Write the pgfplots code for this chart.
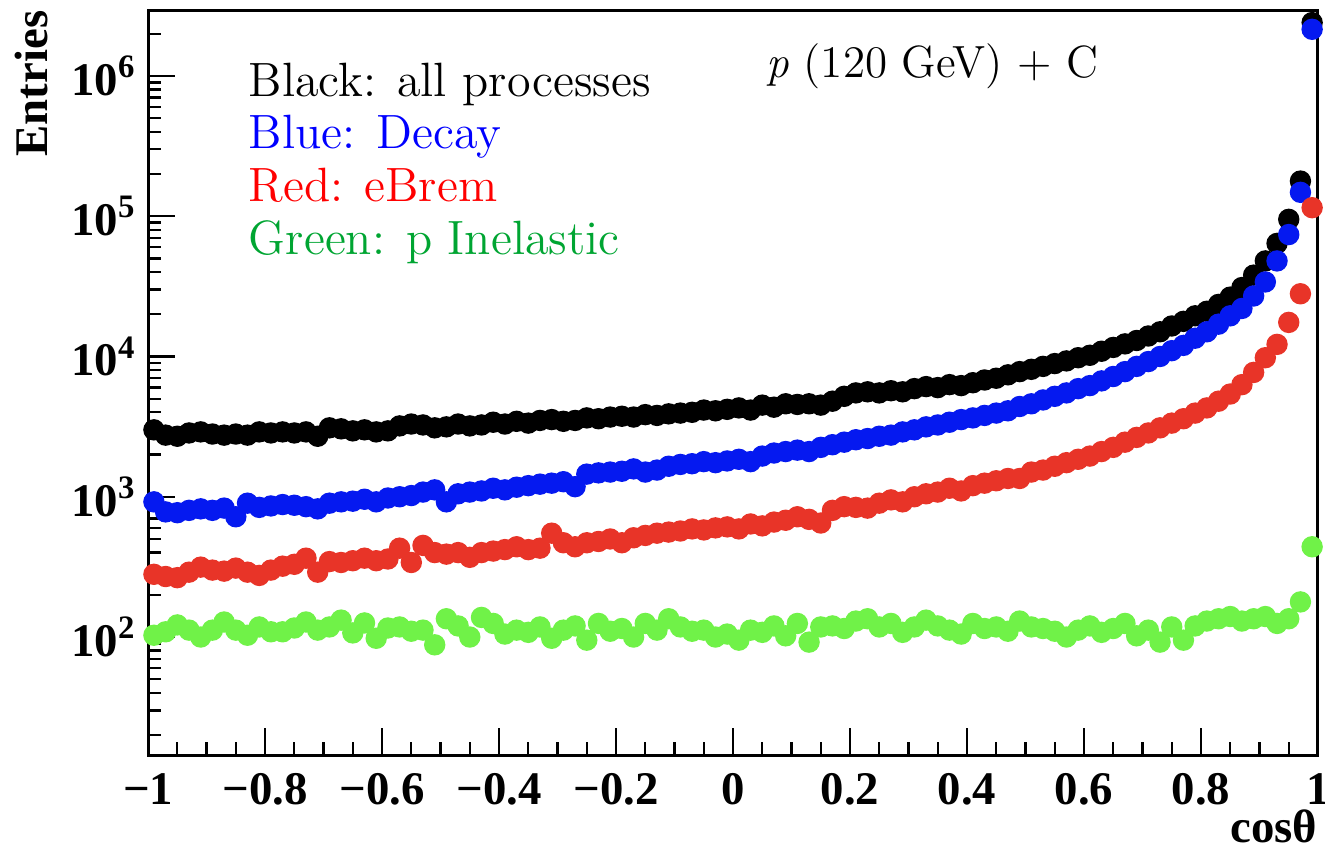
\documentclass[border=0pt]{standalone}
\usepackage{fontspec}
\usepackage{pgfplots}
\usepackage{pgfplotstable}
\pgfplotsset{compat=1.18}
\newfontfamily\rootfont{Liberation Serif}
\definecolor{mblue}{RGB}{5,25,240}
\definecolor{mred}{RGB}{232,52,40}
\definecolor{mgreen}{RGB}{112,242,72}
\definecolor{tgreen}{RGB}{0,165,50}

\pgfplotstableread{
x black blue red green
-0.99 3000 920 280 103
-0.97 2750 780 270 109
-0.95 2700 770 265 122
-0.93 2850 800 290 112
-0.91 2900 820 315 100
-0.89 2800 800 300 112
-0.87 2750 830 295 128
-0.85 2800 720 310 112
-0.83 2750 900 290 103
-0.81 2900 840 275 118
-0.79 2850 860 300 109
-0.77 2900 880 320 109
-0.75 2850 870 330 116
-0.73 2900 850 365 128
-0.71 2700 820 290 112
-0.69 3100 900 345 118
-0.67 3050 920 340 132
-0.65 2950 930 350 107
-0.63 3000 960 365 126
-0.61 2900 920 350 98
-0.59 2950 980 360 116
-0.57 3200 1000 430 118
-0.55 3300 1020 340 110
-0.53 3250 1080 450 112
-0.51 3100 1120 400 88
-0.49 3150 920 390 135
-0.47 3300 1050 400 120
-0.45 3200 1080 370 100
-0.43 3250 1100 400 138
-0.41 3400 1150 410 125
-0.39 3300 1120 420 105
-0.37 3450 1170 440 112
-0.35 3350 1200 420 108
-0.33 3500 1230 430 118
-0.31 3550 1250 550 98
-0.29 3450 1280 470 112
-0.27 3500 1180 440 120
-0.25 3650 1450 470 95
-0.23 3600 1480 480 125
-0.21 3700 1500 500 110
-0.19 3750 1520 470 115
-0.17 3700 1580 510 100
-0.15 3850 1500 530 125
-0.13 3800 1550 550 112
-0.11 3900 1650 560 135
-0.09 3950 1700 570 118
-0.07 4000 1720 590 110
-0.05 4150 1780 580 112
-0.03 4100 1750 600 100
-0.01 4200 1800 610 105
0.01 4300 1850 590 95
0.03 4150 1780 640 112
0.05 4500 1950 620 108
0.07 4350 2050 660 120
0.09 4600 2100 680 102
0.11 4550 2150 720 125
0.13 4600 2100 690 92
0.15 4500 2250 650 118
0.17 4800 2350 800 120
0.19 5200 2450 850 115
0.21 5500 2550 840 130
0.23 5600 2600 830 135
0.25 5500 2700 900 118
0.27 5700 2750 950 125
0.29 5600 2900 920 108
0.31 5900 3000 1000 118
0.33 6100 3150 1050 132
0.35 6000 3250 1080 120
0.37 6300 3400 1150 112
0.39 6200 3550 1100 105
0.41 6500 3650 1200 125
0.43 6800 3800 1250 115
0.45 7000 3950 1300 118
0.47 7400 4100 1350 110
0.49 7800 4400 1350 130
0.51 8100 4600 1500 118
0.53 8500 4900 1550 115
0.55 8900 5200 1650 110
0.57 9300 5500 1750 100
0.59 9800 5900 1850 112
0.61 10200 6200 1950 120
0.63 10900 6700 2100 108
0.65 11600 7200 2250 115
0.67 12300 7800 2450 125
0.69 13000 8500 2650 102
0.71 14000 9200 2850 112
0.73 15000 10000 3100 92
0.75 16500 11000 3350 118
0.77 17800 12000 3600 95
0.79 19500 13500 3950 120
0.81 21000 15000 4300 130
0.83 23500 17000 4800 135
0.85 26500 19500 5400 140
0.87 31000 22000 6300 130
0.89 38000 27000 7700 135
0.91 48000 34000 9800 140
0.93 64000 48000 12200 125
0.95 95000 74000 17500 135
0.97 178000 148000 28000 178
0.99 2400000 2150000 115000 440
}\datatable

\begin{document}
\begin{tikzpicture}
\begin{axis}[
  scale only axis, width=350pt, height=222.9pt,
  xmin=-1, xmax=1, ymode=log, ymin=14.4, ymax=2.95e6,
  axis line style={line width=0.9pt},
  tick pos=left, tick align=inside,
  major tick length=8pt, minor tick length=4pt,
  every tick/.style={black, line width=0.7pt},
  xtick={-1,-0.8,-0.6,-0.4,-0.2,0,0.2,0.4,0.6,0.8,1},
  xticklabels={−1,−0.8,−0.6,−0.4,−0.2,0,0.2,0.4,0.6,0.8,1},
  minor x tick num=3,
  ytick={100,1000,10000,100000,1000000},
  yticklabels={10\textsuperscript{2},10\textsuperscript{3},10\textsuperscript{4},10\textsuperscript{5},10\textsuperscript{6}},
  minor ytick={20,30,40,50,60,70,80,90,200,300,400,500,600,700,800,900,2000,3000,4000,5000,6000,7000,8000,9000,20000,30000,40000,50000,60000,70000,80000,90000,200000,300000,400000,500000,600000,700000,800000,900000,2000000},
  tick label style={font=\rootfont\bfseries\fontsize{14}{14}\selectfont},
  xticklabel style={yshift=-2pt},
  mark size=3pt,
]
\addplot[only marks, mark=*, black, mark options={draw=none, fill=black}] table[x=x, y=black] {\datatable};
\addplot[only marks, mark=*, mblue, mark options={draw=none, fill=mblue}] table[x=x, y=blue] {\datatable};
\addplot[only marks, mark=*, mred, mark options={draw=none, fill=mred}] table[x=x, y=red] {\datatable};
\addplot[only marks, mark=*, mgreen, mark options={draw=none, fill=mgreen}] table[x=x, y=green] {\datatable};

\coordinate (sw) at (rel axis cs:0,0);
\coordinate (ne) at (rel axis cs:1,1);

\begin{scope}[every node/.style={anchor=base west, inner sep=0pt, font=\fontsize{14.4}{16}\selectfont}]
\node[black]  at (rel axis cs:0.0855,0.8846) {Black: all processes};
\node[blue]   at (rel axis cs:0.0855,0.8148) {Blue: Decay};
\node[red]    at (rel axis cs:0.0855,0.7436) {Red: eBrem};
\node[tgreen] at (rel axis cs:0.0855,0.6725) {Green: p Inelastic};
\end{scope}
\node[anchor=base west, inner sep=0pt, font=\fontsize{13.5}{16}\selectfont] at (rel axis cs:0.528,0.910) {\textit{p} (120 GeV) + C};
\end{axis}
\node[rotate=90, anchor=east, inner sep=0pt, font=\rootfont\bfseries\fontsize{14}{14}\selectfont] at ([xshift=-35pt]ne -| sw) {Entries};
\node[anchor=base east, inner sep=0pt, font=\rootfont\bfseries\fontsize{14}{14}\selectfont] at ([yshift=-26pt]sw -| ne) {cosθ};
\pgfresetboundingbox
\path[use as bounding box] ([xshift=-44.3pt,yshift=-29.3pt]sw) rectangle ([xshift=2.1pt,yshift=3pt]ne);
\end{tikzpicture}
\end{document}
